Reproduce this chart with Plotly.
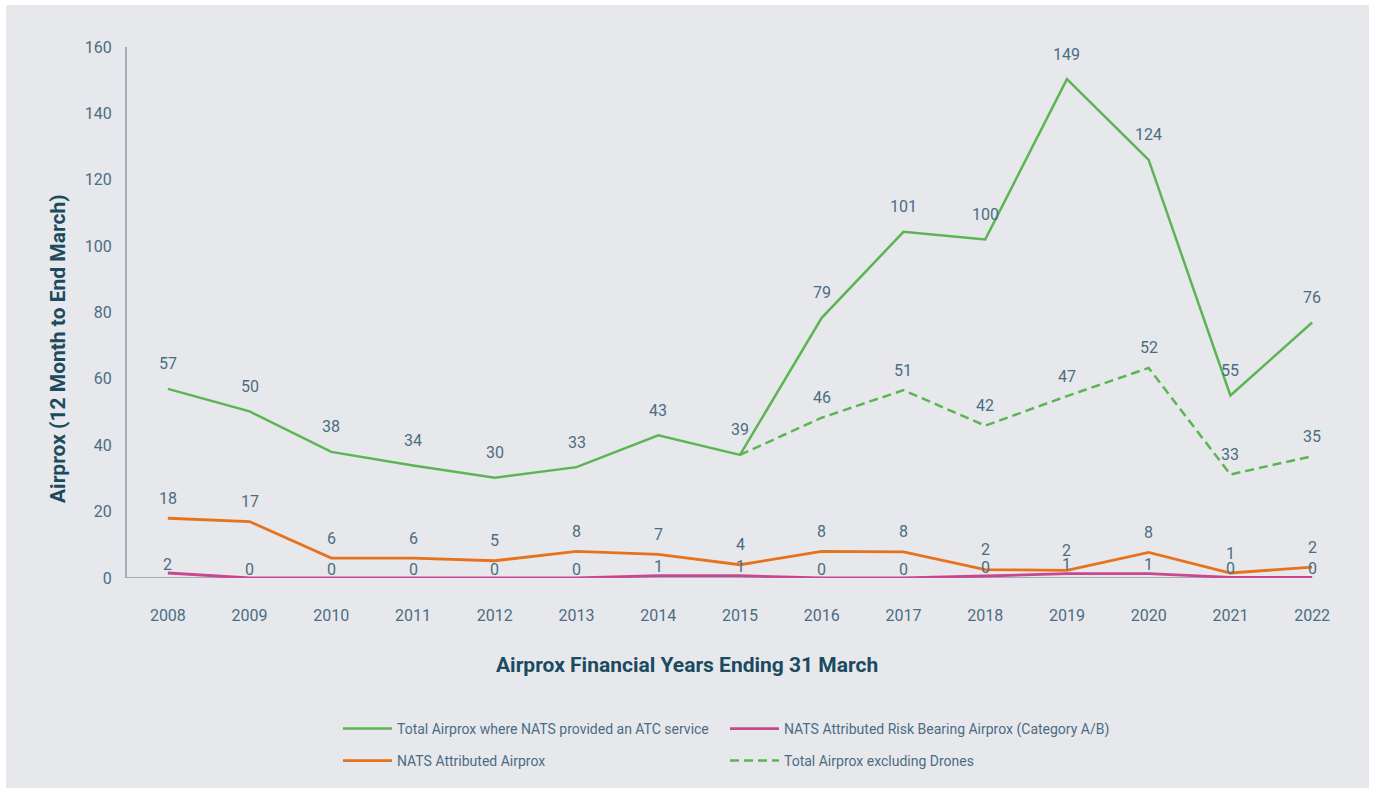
import plotly.graph_objects as go

years = ["2008", "2009", "2010", "2011", "2012", "2013", "2014", "2015",
         "2016", "2017", "2018", "2019", "2020", "2021", "2022"]

# plotted positions
total_atc = [57.0, 50.2, 38.0, 33.9, 30.2, 33.4, 43.0, 37.1, 78.4, 104.3, 102.0, 150.3, 126.0, 55.0, 77.0]
total_excl_drones = [None, None, None, None, None, None, None, 37.1, 48.3, 56.6, 45.9, 54.8, 63.3, 31.2, 36.7]
nats_attributed = [18.0, 17.0, 6.0, 6.0, 5.2, 8.0, 7.1, 4.0, 8.0, 7.9, 2.5, 2.3, 7.7, 1.5, 3.3]
nats_risk_bearing = [1.5, 0, 0, 0, 0, 0, 0.7, 0.7, 0, 0, 0.6, 1.3, 1.3, 0.2, 0.2]

# data labels as printed
total_atc_labels = [57, 50, 38, 34, 30, 33, 43, 39, 79, 101, 100, 149, 124, 55, 76]
total_excl_drones_labels = [None, None, None, None, None, None, None, None, 46, 51, 42, 47, 52, 33, 35]
nats_attributed_labels = [18, 17, 6, 6, 5, 8, 7, 4, 8, 8, 2, 2, 8, 1, 2]
nats_risk_bearing_labels = [2, 0, 0, 0, 0, 0, 1, 1, 0, 0, 0, 1, 1, 0, 0]

GREEN = "#5cb553"
ORANGE = "#e8721c"
PINK = "#c9478f"
TICK = "#4b6d82"
TITLE = "#1c4a5f"
BG = "#e7e8ec"
FONT = "Roboto"

fig = go.Figure()
fig.add_trace(go.Scatter(x=years, y=total_atc, mode="lines", name="Total Airprox where NATS provided an ATC service",
                         line=dict(color=GREEN, width=2.5), legend="legend"))
fig.add_trace(go.Scatter(x=years, y=total_excl_drones, mode="lines", name="Total Airprox excluding Drones",
                         line=dict(color=GREEN, width=2.5, dash="9px,5px"), legend="legend4", connectgaps=False))
fig.add_trace(go.Scatter(x=years, y=nats_attributed, mode="lines", name="NATS Attributed Airprox",
                         line=dict(color=ORANGE, width=2.8), legend="legend3"))
fig.add_trace(go.Scatter(x=years, y=nats_risk_bearing, mode="lines", name="NATS Attributed Risk Bearing Airprox (Category A/B)",
                         line=dict(color=PINK, width=2.8), legend="legend2"))

W, H = 1373, 791
L, R, T, B = 127, 20, 47, 213
pw = W - L - R
ph = H - T - B
def px(xp):
    return (xp - L) / pw
def py(yp):
    return (H - B - yp) / ph

annotations = []
def add_labels(vals, labels, shift):
    for i, (v, lab) in enumerate(zip(vals, labels)):
        if lab is None or v is None:
            continue
        annotations.append(dict(xref="x", yref="y", x=i, y=v, text=str(lab), showarrow=False, yshift=shift,
                                font=dict(family=FONT, size=16, color=TICK), yanchor="middle", xanchor="center"))

add_labels(total_atc, total_atc_labels, 25)
add_labels(total_excl_drones, total_excl_drones_labels, 20)
add_labels(nats_attributed, nats_attributed_labels, 20)
add_labels(nats_risk_bearing, nats_risk_bearing_labels, 9)

annotations.append(dict(xref="paper", yref="paper", x=px(687), y=py(665), text="<b>Airprox Financial Years Ending 31 March</b>",
                        showarrow=False, xanchor="center", yanchor="middle",
                        font=dict(family=FONT, size=21, color=TITLE)))
annotations.append(dict(xref="paper", yref="paper", x=px(58), y=py(349), text="<b>Airprox (12 Month to End March)</b>",
                        showarrow=False, xanchor="center", yanchor="middle", textangle=-90,
                        font=dict(family=FONT, size=21, color=TITLE)))

shapes = [
    dict(type="rect", xref="paper", yref="paper", x0=px(6), x1=px(1369), y0=py(788), y1=py(5),
         fillcolor=BG, line=dict(width=0), layer="below"),
    dict(type="line", xref="x", yref="y", x0=-0.5, x1=14, y0=0, y1=0,
         line=dict(color="#a3adb8", width=2), layer="below"),
]

leg_common = dict(orientation="h", font=dict(family=FONT, size=14, color=TICK), bgcolor="rgba(0,0,0,0)",
                  xanchor="left", yanchor="middle", itemwidth=49)
fig.update_layout(
    width=W, height=H,
    margin=dict(l=L, r=R, t=T, b=B),
    paper_bgcolor="white",
    plot_bgcolor="rgba(0,0,0,0)",
    font=dict(family=FONT, color=TICK),
    showlegend=True,
    legend=dict(x=px(338), y=py(729), **leg_common),
    legend2=dict(x=px(725), y=py(729), **leg_common),
    legend3=dict(x=px(338), y=py(761), **leg_common),
    legend4=dict(x=px(725), y=py(761), **leg_common),
    xaxis=dict(type="category", range=[-0.5, 14.5], showgrid=False, zeroline=False, showline=False,
               ticks="", tickfont=dict(family=FONT, size=16, color=TICK), ticklabelstandoff=26,
               automargin=False),
    yaxis=dict(range=[0, 160], dtick=20, showgrid=False, zeroline=False, showline=True,
               linecolor="#a3adb8", linewidth=2, ticks="",
               tickfont=dict(family=FONT, size=16, color=TICK), ticklabelstandoff=10,
               automargin=False),
    annotations=annotations,
    shapes=shapes,
)

fig.write_html("out.html")
